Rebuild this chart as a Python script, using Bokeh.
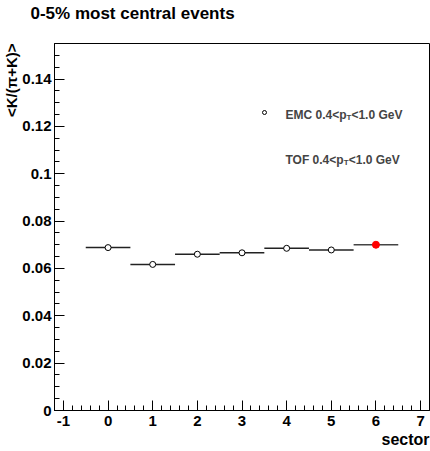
import numpy as np
from bokeh.plotting import figure
from bokeh.models import (Label, Legend, LegendItem, FixedTicker, ColumnDataSource,
                          Range1d, Title)
from bokeh.embed import file_html
from bokeh.resources import INLINE

# ---------------- data ----------------
title_text = "0-5% most central events"
y_title = "<K/(π+K)>"
x_title = "sector"

emc_sector = [0, 1, 2, 3, 4, 5]
emc_ratio = [0.0688, 0.0617, 0.0660, 0.0666, 0.0685, 0.0678]
tof_sector = [6]
tof_ratio = [0.0700]
bin_half_width = 0.5

x_ticks = [-1, 0, 1, 2, 3, 4, 5, 6, 7]
y_ticks = [0.0, 0.02, 0.04, 0.06, 0.08, 0.10, 0.12, 0.14]
y_tick_labels = ["0", "0.02", "0.04", "0.06", "0.08", "0.1", "0.12", "0.14"]

emc_label = ("EMC 0.4<p", "T", "<1.0 GeV")
tof_label = ("TOF 0.4<p", "T", "<1.0 GeV")

# ---------------- figure ----------------
FONT = "Liberation Sans"

p = figure(width=430, height=451, output_backend="svg", toolbar_location=None,
           x_range=Range1d(-1.2, 7.2), y_range=Range1d(0, 0.155),
           min_border_left=52, min_border_right=1, min_border_top=43,
           min_border_bottom=41)
p.background_fill_color = "white"
p.border_fill_color = "white"
p.outline_line_color = "black"
p.outline_line_width = 1
p.grid.visible = False

# spacer between the frame and the main title (keeps the title near the top edge)
p.add_layout(Title(text=" ", standoff=0, text_font=FONT, text_font_size="17px"), "above")

# main title (above panel, not clipped by the frame)
p.title.text = title_text
p.title.align = "left"
p.title.vertical_align = "bottom"
p.title.offset = -24
p.title.standoff = 0
p.title.text_font = FONT
p.title.text_font_style = "bold"
p.title.text_font_size = "17px"
p.title.text_color = "black"

# axes
x_minor = list(np.round(np.arange(-1.2, 7.21, 0.2), 3))
y_minor = list(np.round(np.arange(0, 0.1551, 0.005), 4))
p.xaxis.ticker = FixedTicker(ticks=x_ticks, minor_ticks=x_minor)
p.yaxis.ticker = FixedTicker(ticks=y_ticks, minor_ticks=y_minor)
p.yaxis.major_label_overrides = {t: s for t, s in zip(y_ticks, y_tick_labels)}
p.xaxis.major_label_overrides = {t: str(t) for t in x_ticks}

for ax in (p.xaxis, p.yaxis):
    ax.axis_line_color = "black"
    ax.axis_line_width = 1
    ax.major_tick_in = 10
    ax.major_tick_out = 0
    ax.minor_tick_in = 5
    ax.minor_tick_out = 0
    ax.major_tick_line_color = "black"
    ax.minor_tick_line_color = "black"
    ax.major_label_text_font = FONT
    ax.major_label_text_font_style = "bold"
    ax.major_label_text_font_size = "15px"
    ax.major_label_text_color = "black"
p.xaxis.major_label_standoff = 5
p.yaxis.major_label_standoff = 3

# axis titles as side-panel titles (aligned to the far end of the axis)
y_title_obj = Title(text=y_title, align="right", standoff=0, text_font=FONT,
                    text_font_style="bold", text_font_size="15px", text_color="black")
p.add_layout(y_title_obj, "left")
x_title_obj = Title(text=x_title, align="right", standoff=0, text_font=FONT,
                    text_font_style="bold", text_font_size="16px", text_color="black")
p.add_layout(x_title_obj, "below")

# ---------------- data glyphs ----------------
emc_src = ColumnDataSource(dict(
    sector=emc_sector, ratio=emc_ratio,
    lo=[s - bin_half_width for s in emc_sector],
    hi=[s + bin_half_width for s in emc_sector]))
tof_src = ColumnDataSource(dict(
    sector=tof_sector, ratio=tof_ratio,
    lo=[s - bin_half_width for s in tof_sector],
    hi=[s + bin_half_width for s in tof_sector]))

p.segment(x0="lo", y0="ratio", x1="hi", y1="ratio", source=emc_src,
          line_color="#222222", line_width=1.5)
p.segment(x0="lo", y0="ratio", x1="hi", y1="ratio", source=tof_src,
          line_color="#444444", line_width=1.5)
emc_r = p.scatter(x="sector", y="ratio", source=emc_src, marker="circle", size=6,
                  fill_color="white", line_color="black", line_width=1)
p.scatter(x="sector", y="ratio", source=tof_src, marker="circle", size=7,
          fill_color="red", line_color="red", line_width=1)
tof_key = p.scatter(x=[], y=[], marker="square", size=5,
                    fill_color="red", line_color="red", line_width=1)

legend = Legend(items=[LegendItem(label=" ", renderers=[emc_r]),
                       LegendItem(label=" ", renderers=[tof_key])],
                location=(205, 242), padding=0, margin=0, spacing=26,
                glyph_width=10, glyph_height=20, label_standoff=0,
                border_line_alpha=0, background_fill_alpha=0,
                label_text_font_size="6px")
p.add_layout(legend)

# approximate Liberation Sans Bold advance widths (em) for placing the subscript
_W = {"E": .667, "M": .833, "C": .722, "T": .611, "O": .778, "F": .611, " ": .278,
      "0": .556, ".": .278, "4": .556, "<": .584, "p": .611}


def text_width(s, size):
    return sum(_W.get(c, .556) for c in s) * size


def legend_text(parts, x, y):
    main, sub, rest = parts
    w1 = text_width(main, 12)
    w2 = _W["T"] * 8
    p.add_layout(Label(x=x, y=y, x_units="screen", y_units="screen", text=main,
                       text_font=FONT, text_font_style="bold", text_font_size="12px",
                       text_baseline="alphabetic", text_align="left"))
    p.add_layout(Label(x=x + w1, y=y - 3, x_units="screen", y_units="screen", text=sub,
                       text_font=FONT, text_font_style="bold", text_font_size="8px",
                       text_baseline="alphabetic", text_align="left"))
    p.add_layout(Label(x=x + w1 + w2, y=y, x_units="screen", y_units="screen", text=rest,
                       text_font=FONT, text_font_style="bold", text_font_size="12px",
                       text_baseline="alphabetic", text_align="left"))


legend_text(emc_label, 231, 296)
legend_text(tof_label, 231, 251)

open("out.html", "w").write(file_html(p, INLINE))
